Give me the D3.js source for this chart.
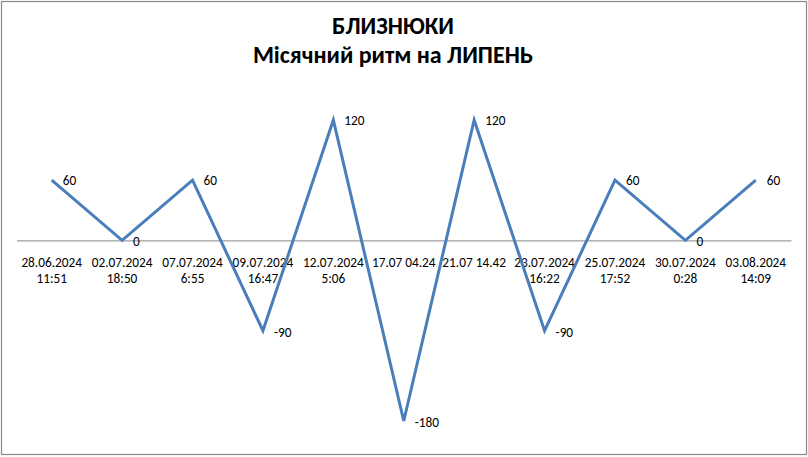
<!DOCTYPE html>
<html><head><meta charset="utf-8">
<script src="https://cdn.jsdelivr.net/npm/d3@7"></script>
<style>body{margin:0;background:#fff}svg{display:block}</style>
</head><body>
<svg id="c" width="808" height="457"></svg>
<script>
const titleLines = ["БЛИЗНЮКИ", "Місячний ритм на ЛИПЕНЬ"];
const categories = [
  ["28.06.2024", "11:51"],
  ["02.07.2024", "18:50"],
  ["07.07.2024", "6:55"],
  ["09.07.2024", "16:47"],
  ["12.07.2024", "5:06"],
  ["17.07 04.24"],
  ["21.07 14.42"],
  ["23.07.2024", "16:22"],
  ["25.07.2024", "17:52"],
  ["30.07.2024", "0:28"],
  ["03.08.2024", "14:09"]
];
const values = [60, 0, 60, -90, 120, -180, 120, -90, 60, 0, 60];

const W = 808, H = 457;
const svg = d3.select("#c");
const font = "Carlito, 'Liberation Sans', Arial, sans-serif";

svg.append("rect").attr("x", 1.5).attr("y", 1.5).attr("width", W - 3).attr("height", H - 4)
  .attr("fill", "#fff").attr("stroke", "#888").attr("stroke-width", 1.2);

const t = svg.append("text").attr("text-anchor", "middle").attr("font-family", font)
  .attr("font-weight", "bold").attr("fill", "#000").attr("font-size", 24);
t.append("tspan").attr("x", 393).attr("y", 34).text(titleLines[0]);
t.append("tspan").attr("x", 393).attr("y", 63).text(titleLines[1]);

const idx = categories.map((d, i) => i);
const x = d3.scaleBand().domain(idx).range([16.5, 791]);
const y = d3.scaleLinear().domain([-180, 120]).range([421, 120]);
const cx = i => x(i) + x.bandwidth() / 2;

// category axis at zero
const axis = d3.axisBottom(x).tickSize(0).tickFormat("");
const ag = svg.append("g").attr("transform", `translate(0,${y(0)})`).call(axis);
ag.select(".domain").attr("stroke", "#868686").attr("stroke-width", 1);

// tick labels
const lab = svg.append("g").attr("font-family", font).attr("font-size", 13.3).attr("fill", "#000")
  .attr("text-anchor", "middle");
categories.forEach((c, i) => {
  const tx = lab.append("text");
  c.forEach((s, k) => tx.append("tspan").attr("x", cx(i)).attr("y", 267 + k * 15.5).text(s));
});

// line
const line = d3.line().x((d, i) => cx(i)).y(d => y(d));
svg.append("path").datum(values).attr("d", line).attr("fill", "none")
  .attr("stroke", "#4a7ebb").attr("stroke-width", 3).attr("stroke-linejoin", "miter");

// data labels
svg.append("g").attr("font-family", font).attr("font-size", 13.3).attr("fill", "#000")
  .selectAll("text").data(values).join("text")
  .attr("x", (d, i) => cx(i) + 11).attr("y", d => y(d) + 4.5 + (d <= 0 ? 1.5 : 0))
  .text(d => d);
</script>
</body></html>
